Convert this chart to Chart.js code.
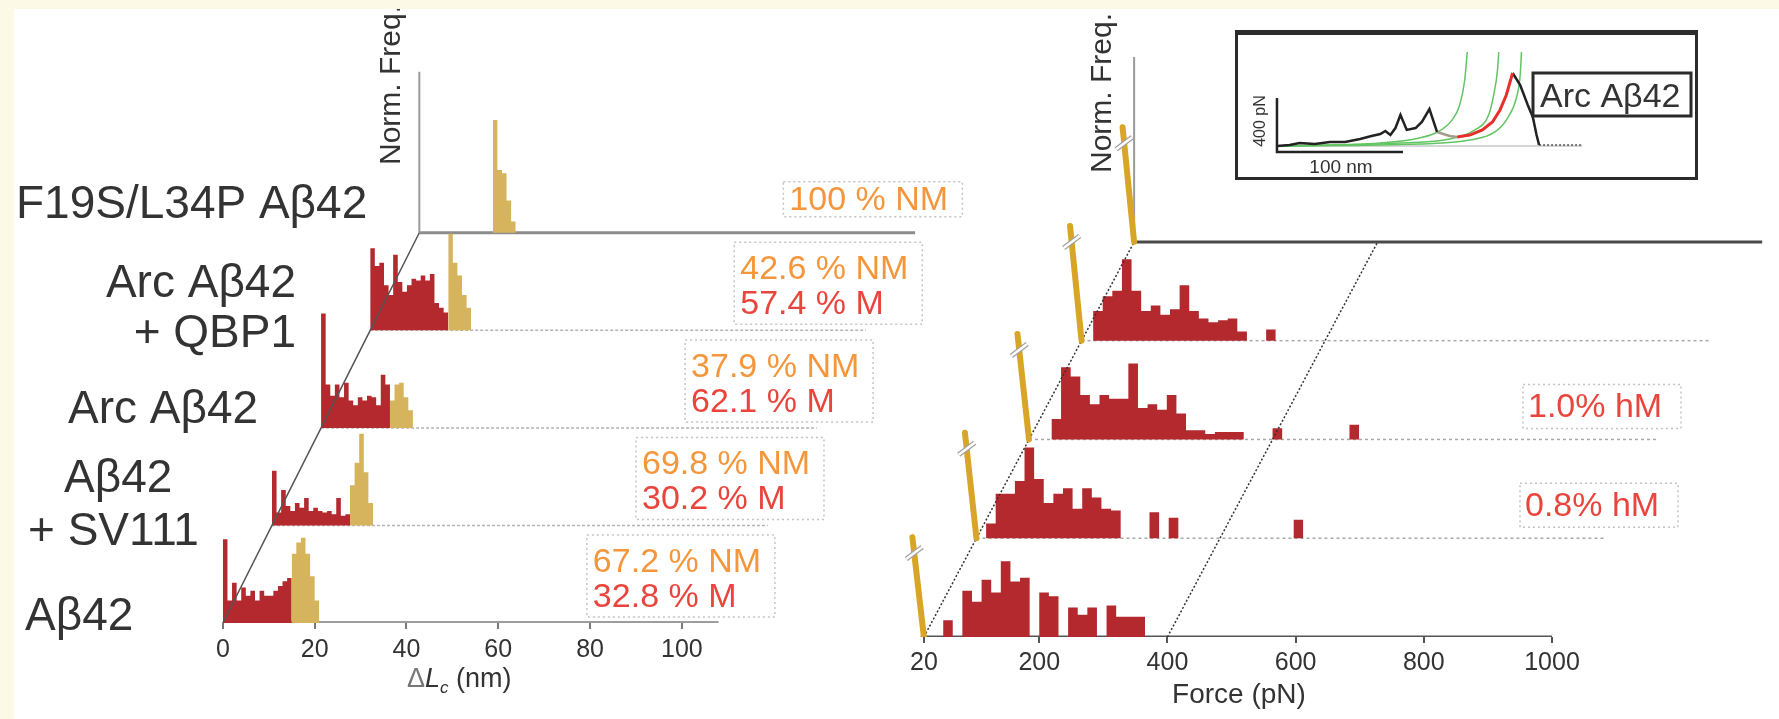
<!DOCTYPE html>
<html>
<head>
<meta charset="utf-8">
<script src="https://cdn.jsdelivr.net/npm/chart.js@4.4.1/dist/chart.umd.min.js"></script>
<style>
  html, body { margin: 0; padding: 0; background: #fff; }
  body { width: 1779px; height: 719px; position: relative; overflow: hidden; }
  canvas { position: absolute; }
  #left { left: 0; top: 0; width: 1000px; height: 719px; }
  #right { left: 880px; top: 0; width: 899px; height: 719px; }
  #inset { left: 1235px; top: 30px; width: 463px; height: 150px; }
  .cream { position: absolute; background: #fdf9e7; z-index: 5; }
</style>
</head>
<body>
<canvas id="left" width="1000" height="719"></canvas>
<canvas id="right" width="899" height="719"></canvas>
<canvas id="inset" width="463" height="150"></canvas>
<div class="cream" style="left:0;top:0;width:1779px;height:9px"></div>
<div class="cream" style="left:0;top:0;width:14px;height:719px"></div>
<script>
// ---- left panel: contour length increments, 1 nm bins, normalised frequency (axis height = 100)
const lcRows = ['Aβ42', 'Aβ42 + SV111', 'Arc Aβ42', 'Arc Aβ42 + QBP1', 'F19S/L34P Aβ42'];
const lcMech = [
  [52, 14, 25, 14, 22, 17, 20, 14, 20, 17, 17, 20, 23, 26, 28],
  [34, 8, 22, 12, 9, 14, 11, 17, 9, 11, 9, 8, 9, 7, 17, 6, 7],
  [71, 27, 20, 27, 19, 28, 17, 14, 19, 17, 20, 19, 14, 33, 27],
  [51, 40, 42, 28, 22, 47, 30, 24, 28, 32, 31, 34, 31, 35, 17, 14, 11],
  []
];
const lcNonMechStart = [15, 17, 15, 17, 16];
const lcNonMech = [
  [43, 50, 53, 43, 29, 14],
  [25, 39, 57, 33, 14],
  [17, 27, 28, 19, 11],
  [60, 42, 34, 22, 14],
  [70, 39, 37, 20, 7]
];
const lcTicks = [0, 20, 40, 60, 80, 100];
const nmPct = ['67.2', '69.8', '37.9', '42.6', '100'];
const mPct = ['32.8', '30.2', '62.1', '57.4', null];

// ---- right panel: unfolding force, 15 pN bins
const fTicks = [20, 200, 400, 600, 800, 1000];
const fSpike = [54, 57, 57, 62, 62];           // first bin (~20 pN), truncated
const fMechStart = [50, 35, 55, 38, null];
const fMech = [
  [9, 0, 25, 19, 31, 24, 41, 30, 32, 0, 24, 22, 0, 16, 12, 16, 0, 17, 11, 11, 11],
  [8, 24, 24, 31, 49, 32, 19, 24, 27, 16, 27, 22, 16, 15, 0, 0, 0, 14, 0, 11, 0, 0, 0, 0, 0, 0, 0, 0, 0, 0, 0, 0, 10],
  [11, 39, 34, 24, 19, 24, 22, 22, 41, 17, 19, 16, 24, 14, 5, 5, 3, 4, 4, 4, 0, 0, 0, 6, 0, 0, 0, 0, 0, 0, 0, 8],
  [16, 24, 27, 44, 27, 16, 19, 14, 17, 30, 16, 12, 10, 11, 12, 5, 0, 0, 6],
  []
];
const hmPct = [null, '0.8', '1.0', null, null];

// ---- inset: force-extension trace (nm, pN)
const insetTrace = [[0, 0], [10, 7], [18, 22], [30, 15], [42, 30], [54, 30], [66, 52], [75, 74], [82, 89], [86, 111], [90, 81], [94, 133], [98, 230], [103, 119], [110, 133], [115, 178], [121, 274], [127, 104]];
const insetGap = [[127, 104], [137, 74], [143, 67]];
const insetLast = [[143, 67], [153, 81], [163, 119], [171, 178], [177, 267], [182, 378], [187, 541]];
const insetRupture = [[187, 541], [193, 452], [199, 304], [203, 215], [206, 81], [208, 7]];
const insetTail = [[208, 7], [242, 7]];
const wlcFits = [
  [[0, 0], [82, 22], [113, 59], [129, 111], [139, 193], [145, 304], [149, 489], [151, 696]],
  [[0, 0], [98, 22], [137, 52], [157, 119], [168, 230], [172, 378], [175, 563], [176, 696]],
  [[0, 0], [113, 15], [153, 44], [173, 104], [183, 207], [190, 356], [193, 526], [194, 696]]
];

const FONT = "'Liberation Sans', Arial, Helvetica, sans-serif";
const INK = '#333';
const RED = '#b3292d';
const TAN = '#d6b45e';
const GOLD = '#d9a528';
const ORANGE = '#f4973c';
const PCT_RED = '#e9453d';

// waterfall offsets between rows
const LC_ROW_DX = 10.7, LC_ROW_DY = 60.6, LC_AXIS_END = 108, LC_BOX_X = 79.3;
const F_ROW_DX = 82, F_ROW_DY = 53.4, F_SPIKE_AT = 20, SPIKE_LEAN = 18;

const xy = (a) => a.map(p => ({ x: p[0], y: p[1] }));

function histSeries(start, bin, heights, dx, base) {
  const pts = [{ x: start + dx, y: base }];
  heights.forEach((h, i) => pts.push({ x: start + i * bin + dx, y: base + h }));
  pts.push({ x: start + heights.length * bin + dx, y: base });
  return pts;
}
function histDataset(pts, base, color, order) {
  return { data: pts, showLine: true, stepped: 'before', fill: { value: base },
    backgroundColor: color, borderColor: color, borderWidth: 0, pointRadius: 0, order };
}
function lineDataset(pts, color, width, dash, order, extra) {
  return Object.assign({ data: pts, showLine: true, fill: false, borderColor: color,
    borderWidth: width, borderDash: dash || [], pointRadius: 0, order }, extra || {});
}
function dottedBox(ctx, x, y, w, h) {
  ctx.save();
  ctx.setLineDash([2, 3]);
  ctx.strokeStyle = '#c4c4c4';
  ctx.lineWidth = 1.5;
  ctx.strokeRect(x, y, w, h);
  ctx.restore();
}
function rotText(ctx, t, x, y, size) {
  ctx.save();
  ctx.translate(x, y);
  ctx.rotate(-Math.PI / 2);
  ctx.font = size + 'px ' + FONT;
  ctx.textAlign = 'left';
  ctx.textBaseline = 'middle';
  ctx.fillText(t, 0, 0);
  ctx.restore();
}

const common = {
  responsive: false,
  animation: false,
  events: [],
  plugins: { legend: { display: false }, tooltip: { enabled: false } },
  elements: { point: { radius: 0 } }
};

// ---------------- left chart
const leftSets = [];
for (let k = 0; k < lcRows.length; k++) {
  const dx = k * LC_ROW_DX, base = k * LC_ROW_DY;
  const solid = k === 0 || k === 4;
  leftSets.push(lineDataset([{ x: dx, y: base }, { x: dx + LC_AXIS_END, y: base }],
    k === 0 ? '#9d9d9d' : (k === 4 ? '#8c8c8c' : '#b3b3b3'), k === 0 ? 4 : (solid ? 3 : 1.5), solid ? [] : [3, 2], 20));
  if (lcMech[k].length) leftSets.push(histDataset(histSeries(0, 1, lcMech[k], dx, base), base, RED, 5 + k));
  leftSets.push(histDataset(histSeries(lcNonMechStart[k], 1, lcNonMech[k], dx, base), base, TAN, 5 + k));
}
leftSets.push(lineDataset(lcRows.map((r, k) => ({ x: k * LC_ROW_DX, y: k * LC_ROW_DY })), '#555', 1.5, [], 0));
leftSets.push(lineDataset([{ x: 4 * LC_ROW_DX, y: 4 * LC_ROW_DY }, { x: 4 * LC_ROW_DX, y: 4 * LC_ROW_DY + 100 }], '#9a9a9a', 2, [], 0));

const leftText = {
  id: 'leftText',
  afterDraw(chart) {
    const { ctx, scales: { x, y } } = chart;
    ctx.save();
    ctx.fillStyle = INK;
    ctx.textBaseline = 'alphabetic';
    const lab = (t, px, py, size, align) => {
      ctx.font = size + 'px ' + FONT; ctx.textAlign = align || 'left'; ctx.fillText(t, px, py);
    };
    lab('F19S/L34P Aβ42', 16, 218, 46);
    lab('Arc Aβ42', 296, 297, 46, 'right');
    lab('+ QBP1', 296, 347, 46, 'right');
    lab('Arc Aβ42', 68, 423, 46);
    lab('Aβ42', 64, 492, 46);
    lab('+ SV111', 28, 545, 46);
    lab('Aβ42', 25, 630, 46);

    for (let k = 0; k < lcRows.length; k++) {
      const base = y.getPixelForValue(k * LC_ROW_DY);
      const left = x.getPixelForValue(LC_BOX_X + k * LC_ROW_DX);
      const two = mPct[k] !== null;
      const top = base - (two ? 88 : 51), bottom = base - (two ? 6 : 16);
      dottedBox(ctx, left, top, two ? 188 : 179, bottom - top);
      ctx.font = '34px ' + FONT;
      ctx.textAlign = 'left';
      ctx.fillStyle = ORANGE;
      ctx.fillText(nmPct[k] + ' % NM', left + 6, base - (two ? 51 : 23));
      if (two) {
        ctx.fillStyle = PCT_RED;
        ctx.fillText(mPct[k] + ' % M', left + 6, base - 16);
      }
    }

    ctx.fillStyle = INK;
    rotText(ctx, 'Norm. Freq.', 392, 165, 30);

    // axis title  ΔLc (nm)
    let px = 407;
    const by = 687;
    ctx.textAlign = 'left';
    ctx.font = '27px ' + FONT; ctx.fillStyle = '#777';
    ctx.fillText('Δ', px, by); px += ctx.measureText('Δ').width;
    ctx.font = 'italic 27px ' + FONT; ctx.fillStyle = INK;
    ctx.fillText('L', px, by); px += ctx.measureText('L').width;
    ctx.font = 'italic 17px ' + FONT;
    ctx.fillText('c', px, by + 6); px += ctx.measureText('c').width;
    ctx.font = '27px ' + FONT;
    ctx.fillText(' (nm)', px, by);
    ctx.restore();
  }
};

new Chart(document.getElementById('left'), {
  type: 'scatter',
  data: { datasets: leftSets },
  options: Object.assign({}, common, {
    layout: { padding: { left: 14, top: 9, right: 0, bottom: 0 } },
    scales: {
      x: {
        type: 'linear', min: -45.5, max: 169.3,
        afterBuildTicks: (axis) => { axis.ticks = lcTicks.map(v => ({ value: v })); },
        afterFit: (axis) => { axis.height = 96; },
        border: { display: false },
        grid: { drawOnChartArea: false, drawTicks: true, tickLength: 6, color: '#777', lineWidth: 2 },
        ticks: { font: { family: FONT, size: 25 }, color: INK, padding: 6, maxRotation: 0, autoSkip: false,
          callback: (v) => String(v) }
      },
      y: { display: false, min: 0, max: 381.4 }
    }
  }),
  plugins: [leftText]
});

// ---------------- right chart
const rightSets = [];
for (let k = 0; k < fSpike.length; k++) {
  const dx = k * F_ROW_DX, base = k * F_ROW_DY;
  if (k === 0) {
    rightSets.push(lineDataset([{ x: 15, y: 0 }, { x: 1000, y: 0 }], '#555', 3, [], 20));
  } else if (k === 4) {
    rightSets.push(lineDataset([{ x: F_SPIKE_AT + dx, y: base }, { x: 1000 + dx, y: base }], '#4a4a4a', 3, [], 20));
  } else {
    rightSets.push(lineDataset([{ x: F_SPIKE_AT + dx, y: base }, { x: 1000 + dx, y: base }], '#a8a8a8', 1.5, [3, 3], 20));
  }
  if (fMech[k].length) rightSets.push(histDataset(histSeries(fMechStart[k], 15, fMech[k], dx, base), base, RED, 5 + k));
  rightSets.push(lineDataset([{ x: F_SPIKE_AT + dx, y: base }, { x: F_SPIKE_AT + dx - SPIKE_LEAN, y: base + fSpike[k] }],
    GOLD, 6, [], 1, { borderCapStyle: 'round' }));
}
[F_SPIKE_AT, 400].forEach(v => {
  rightSets.push(lineDataset(fSpike.map((s, k) => ({ x: v + k * F_ROW_DX, y: k * F_ROW_DY })), '#333', 1.5, [2, 2], 2));
});
rightSets.push(lineDataset([{ x: F_SPIKE_AT + 4 * F_ROW_DX, y: 4 * F_ROW_DY }, { x: F_SPIKE_AT + 4 * F_ROW_DX, y: 4 * F_ROW_DY + 100 }], '#9a9a9a', 2, [], 3));

const rightText = {
  id: 'rightText',
  afterDraw(chart) {
    const { ctx, scales: { x, y } } = chart;
    ctx.save();
    // break marks on the truncated first bins
    for (let k = 0; k < fSpike.length; k++) {
      const bx = x.getPixelForValue(F_SPIKE_AT + k * F_ROW_DX), by = y.getPixelForValue(k * F_ROW_DY);
      const tx = x.getPixelForValue(F_SPIKE_AT + k * F_ROW_DX - SPIKE_LEAN), ty = y.getPixelForValue(k * F_ROW_DY + fSpike[k]);
      const t = 16 / (by - ty);
      const cx = tx + (bx - tx) * t, cy = ty + (by - ty) * t;
      [['#a0a0a0', 5], ['#fff', 2.5]].forEach(([c, w]) => {
        ctx.strokeStyle = c; ctx.lineWidth = w;
        ctx.beginPath(); ctx.moveTo(cx - 8, cy + 6); ctx.lineTo(cx + 8, cy - 6); ctx.stroke();
      });
    }
    // high-force fractions
    const hmLeft = [0, 640, 643];
    ctx.font = '34px ' + FONT;
    ctx.textAlign = 'left';
    ctx.textBaseline = 'alphabetic';
    for (let k = 0; k < hmPct.length; k++) {
      if (hmPct[k] === null) continue;
      const base = y.getPixelForValue(k * F_ROW_DY);
      dottedBox(ctx, hmLeft[k], base - 55, 158, 44);
      ctx.fillStyle = PCT_RED;
      ctx.fillText(hmPct[k] + '% hM', hmLeft[k] + 5, base - 22);
    }
    ctx.fillStyle = INK;
    rotText(ctx, 'Norm. Freq.', 223, 173, 30);
    ctx.font = '28px ' + FONT;
    ctx.textAlign = 'center';
    ctx.fillText('Force (pN)', 359, 703);
    ctx.restore();
  }
};

new Chart(document.getElementById('right'), {
  type: 'scatter',
  data: { datasets: rightSets },
  options: Object.assign({}, common, {
    layout: { padding: { left: 0, top: 9, right: 0, bottom: 0 } },
    scales: {
      x: {
        type: 'linear', min: -48.5, max: 1354.2,
        afterBuildTicks: (axis) => { axis.ticks = fTicks.map(v => ({ value: v })); },
        afterFit: (axis) => { axis.height = 82; },
        border: { display: false },
        grid: { drawOnChartArea: false, drawTicks: true, tickLength: 6, color: '#555', lineWidth: 2 },
        ticks: { font: { family: FONT, size: 25 }, color: INK, padding: 5, maxRotation: 0, autoSkip: false,
          callback: (v) => String(v) }
      },
      y: { display: false, min: 0, max: 339.5 }
    }
  }),
  plugins: [rightText]
});

// ---------------- inset
const insetText = {
  id: 'insetText',
  afterDraw(chart) {
    const { ctx, width, height } = chart;
    ctx.save();
    ctx.strokeStyle = '#2b2b2b';
    ctx.lineWidth = 3;
    ctx.strokeRect(1.5, 1.5, width - 3, height - 3);
    ctx.fillStyle = '#2b2b2b';
    ctx.fillRect(0, 0, width, 5);
    ctx.fillStyle = '#fff';
    ctx.fillRect(298, 43, 158, 43);
    ctx.strokeRect(298, 43, 158, 43);
    ctx.fillStyle = INK;
    ctx.font = '34px ' + FONT;
    ctx.textAlign = 'left';
    ctx.fillText('Arc Aβ42', 305, 77);
    ctx.font = '19px ' + FONT;
    ctx.textAlign = 'center';
    ctx.fillText('100 nm', 106, 143);
    ctx.translate(26, 91);
    ctx.rotate(-Math.PI / 2);
    ctx.font = '16px ' + FONT;
    ctx.textBaseline = 'middle';
    ctx.fillText('400 pN', 0, 0);
    ctx.restore();
  }
};

const insetSets = [
  lineDataset([{ x: 0, y: 0 }, { x: 242, y: 0 }], '#c8c8c8', 1.5, [], 9),
  ...wlcFits.map(f => lineDataset(xy(f), '#62c462', 1.5, [], 5, { cubicInterpolationMode: 'monotone' })),
  lineDataset(xy(insetTrace), '#222', 2.5, [], 2),
  lineDataset(xy(insetGap), '#a89a8a', 2.5, [], 2),
  lineDataset(xy(insetLast), '#e8302a', 3, [], 1),
  lineDataset(xy(insetRupture), '#222', 2.5, [], 2),
  lineDataset(xy(insetTail), '#777', 2, [2, 2], 2),
  lineDataset([{ x: 0, y: 356 }, { x: 0, y: -44 }, { x: 100, y: -44 }], '#222', 2.5, [], 0)
];

new Chart(document.getElementById('inset'), {
  type: 'scatter',
  data: { datasets: insetSets },
  options: Object.assign({}, common, {
    layout: { padding: 0 },
    scales: {
      x: { display: false, type: 'linear', min: -33.3, max: 334.1 },
      y: { display: false, min: -251.9, max: 859.3 }
    }
  }),
  plugins: [insetText]
});
</script>
</body>
</html>
